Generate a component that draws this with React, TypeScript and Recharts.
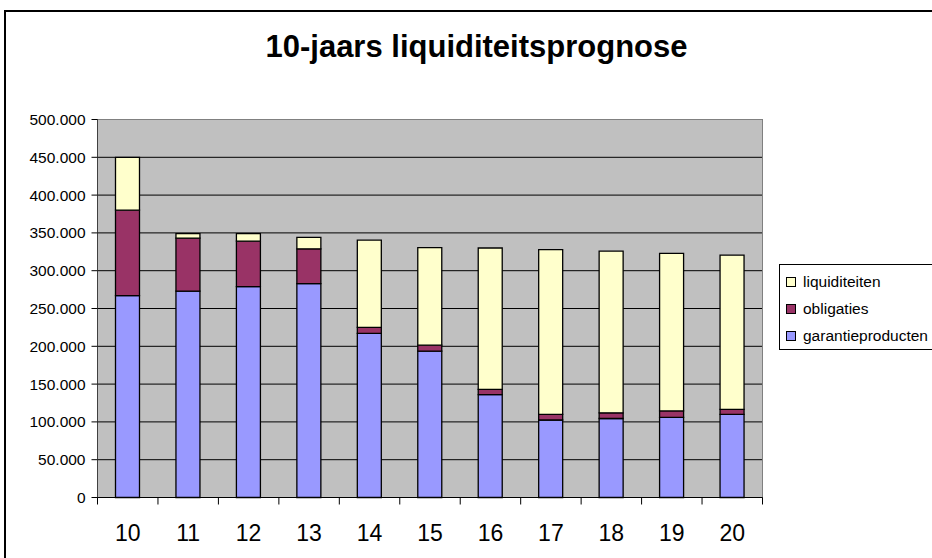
import React from 'react';
import { BarChart, Bar, XAxis, YAxis, CartesianGrid, Legend, ReferenceArea } from 'recharts';

const title = '10-jaars liquiditeitsprognose';
const years = ['10', '11', '12', '13', '14', '15', '16', '17', '18', '19', '20'];
const garantieproducten = [267000, 273000, 279000, 283000, 217000, 193500, 136000, 102500, 104500, 106000, 110000];
const obligaties = [113000, 70000, 60000, 46000, 8000, 8000, 7000, 7500, 7500, 8500, 6500];
const liquiditeiten = [70000, 6000, 10000, 15000, 115500, 129000, 187000, 218000, 214000, 208500, 204000];
const yTicks = [0, 50000, 100000, 150000, 200000, 250000, 300000, 350000, 400000, 450000, 500000];

const series = [
  { key: 'garantieproducten', name: 'garantieproducten', color: '#9999FF' },
  { key: 'obligaties', name: 'obligaties', color: '#993366' },
  { key: 'liquiditeiten', name: 'liquiditeiten', color: '#FFFFCC' },
];

const data = years.map((y, i) => ({
  year: y,
  garantieproducten: garantieproducten[i],
  obligaties: obligaties[i],
  liquiditeiten: liquiditeiten[i],
}));

const FONT = '"Liberation Sans", Arial, Helvetica, sans-serif';

const fmt = (v: number) => String(v).replace(/\B(?=(\d{3})+(?!\d))/g, '.');

const XTick = (props: any) => {
  const { x, y, payload, index, visibleTicksCount } = props;
  const off = payload && typeof payload.offset === 'number' && payload.offset > 0 ? payload.offset : 665 / 11 / 2;
  return (
    <g>
      <line x1={x - off} x2={x - off} y1={y} y2={y + 7} stroke="#000" strokeWidth={1} />
      {index === visibleTicksCount - 1 && (
        <line x1={x + off} x2={x + off} y1={y} y2={y + 7} stroke="#000" strokeWidth={1} />
      )}
      <text x={x} y={y + 43} textAnchor="middle" fontSize={23} fontFamily={FONT} fill="#000">
        {payload.value}
      </text>
    </g>
  );
};

const LegendBox = () => {
  const items = [...series].reverse();
  return (
    <div
      style={{
        position: 'relative',
        width: 170,
        height: 86,
        border: '1px solid #000',
        boxSizing: 'border-box',
        background: '#fff',
        fontFamily: FONT,
        fontSize: 15.5,
        color: '#000',
      }}
    >
      {items.map((s, i) => (
        <div
          key={s.key}
          style={{ position: 'absolute', left: 6, top: 7 + i * 27, height: 20, display: 'flex', alignItems: 'center' }}
        >
          <span
            style={{
              display: 'inline-block',
              width: 8,
              height: 8,
              background: s.color,
              border: '1.3px solid #000',
              marginRight: 7,
            }}
          />
          <span style={{ whiteSpace: 'nowrap' }}>{s.name}</span>
        </div>
      ))}
    </div>
  );
};

export default function App() {
  return (
    <div
      style={{
        position: 'fixed',
        left: 0,
        top: 0,
        width: 932,
        height: 558,
        overflow: 'hidden',
        background: '#fff',
        fontFamily: FONT,
      }}
    >
      <div
        style={{
          position: 'absolute',
          left: 4,
          top: 10,
          width: 1000,
          height: 1000,
          borderLeft: '2px solid #000',
          borderTop: '2px solid #000',
        }}
      />
      <div
        style={{
          position: 'absolute',
          left: 0,
          width: 953,
          top: 29,
          textAlign: 'center',
          fontSize: 31,
          fontWeight: 'bold',
          fontFamily: FONT,
          color: '#000',
          lineHeight: '36px',
        }}
      >
        {title}
      </div>
      <div style={{ position: 'absolute', left: 0, top: 0 }}>
        <BarChart
          width={932}
          height={558}
          data={data}
          margin={{ top: 119.5, right: 169.5, bottom: 0, left: 7.5 }}
          barSize={24}
        >
          <CartesianGrid vertical={false} stroke="#000" fill="#C0C0C0" fillOpacity={1} />
          <ReferenceArea y1={0} y2={500000} fill="none" stroke="#808080" strokeWidth={1} ifOverflow="visible" />
          <XAxis
            dataKey="year"
            height={60.5}
            tickSize={0}
            tickMargin={0}
            tickLine={false}
            axisLine={{ stroke: '#000', strokeWidth: 1 }}
            tick={<XTick />}
            interval={0}
          />
          <YAxis
            width={90}
            domain={[0, 500000]}
            ticks={yTicks}
            interval={0}
            tickFormatter={fmt}
            tickSize={6}
            tickMargin={6}
            axisLine={{ stroke: '#404040', strokeWidth: 1 }}
            tickLine={{ stroke: '#000', strokeWidth: 1 }}
            tick={{ fontSize: 15.5, fill: '#000', fontFamily: FONT }}
          />
          <Legend
            layout="vertical"
            align="center"
            verticalAlign="middle"
            content={<LegendBox />}
            wrapperStyle={{ position: 'absolute', left: 779, top: 264, width: 170, height: 86 }}
          />
          {series.map((s) => (
            <Bar
              key={s.key}
              dataKey={s.key}
              name={s.name}
              stackId="a"
              fill={s.color}
              stroke="#000"
              strokeWidth={1.3}
              isAnimationActive={false}
            />
          ))}
        </BarChart>
      </div>
    </div>
  );
}
